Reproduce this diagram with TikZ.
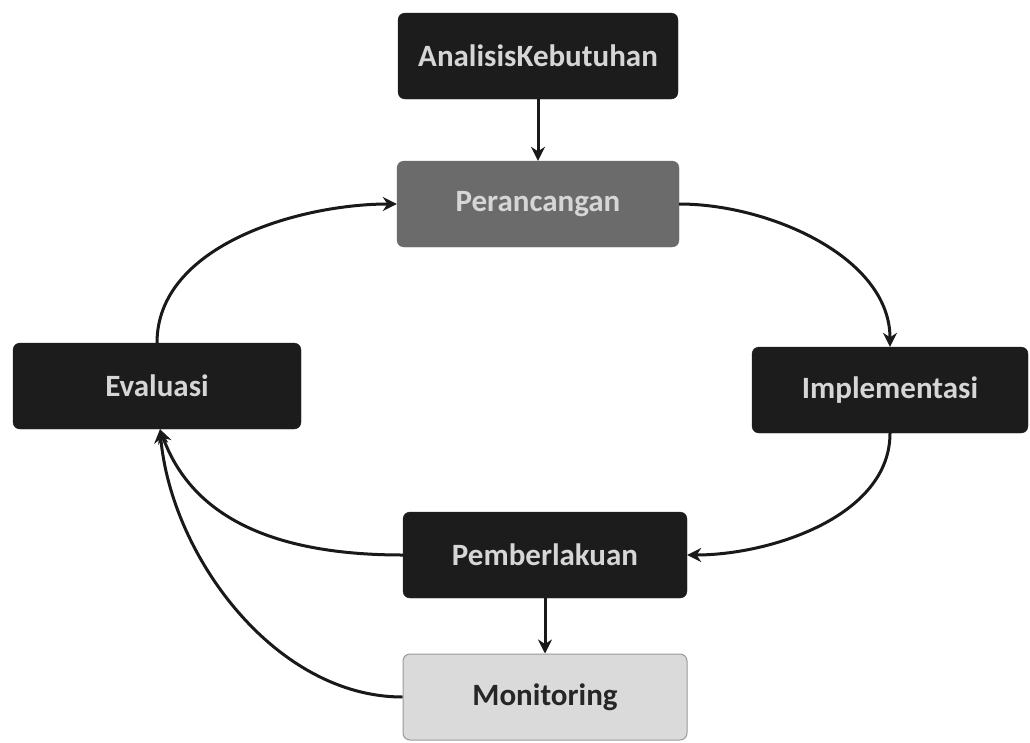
\documentclass[tikz,border=0pt]{standalone}
\usepackage{fontspec}
\setmainfont{Carlito}
\usetikzlibrary{arrows.meta}
\definecolor{darkbox}{HTML}{1C1C1C}
\definecolor{midbox}{HTML}{6B6B6B}
\definecolor{lightbox}{HTML}{DADADA}
\definecolor{boxtext}{HTML}{D6D6D6}
\tikzset{
  stage/.style={rectangle, rounded corners=7pt, minimum height=86pt, inner sep=0pt,
    font=\fontsize{31}{36}\selectfont\bfseries, text=boxtext, fill=darkbox, draw=darkbox},
  conn/.style={line width=3pt, draw=black!90, -{Stealth[length=14pt,width=14pt]}}
}
\begin{document}
\begin{tikzpicture}[x=1pt,y=-1pt]
\useasboundingbox (0,0) rectangle (1030,742);
\node[stage, minimum width=280pt] (ana) at (538,56) {AnalisisKebutuhan};
\node[stage, minimum width=282pt, fill=midbox, draw=midbox] (per) at (538,204) {Perancangan};
\node[stage, minimum width=288pt] (eva) at (157,386) {Evaluasi};
\node[stage, minimum width=276pt] (imp) at (890,390) {Implementasi};
\node[stage, minimum width=284pt] (pem) at (545,555) {Pemberlakuan};
\node[stage, minimum width=284pt, minimum height=86pt, fill=lightbox, draw=black!40, line width=1pt, text=black!85] (mon) at (545,697) {Monitoring};
\draw[conn] (ana.south) -- (per.north);
\draw[conn] (per.east) to[out=0,in=90,looseness=0.9] (imp.north);
\draw[conn] (imp.south) to[out=-90,in=0,looseness=0.9] (pem.east);
\draw[conn] (pem.west) to[out=180,in=-70,looseness=1] ([xshift=3pt]eva.south);
\draw[conn] (mon.west) to[out=180,in=-85,looseness=0.9] ([xshift=3pt]eva.south);
\draw[conn] (eva.north) to[out=90,in=180,looseness=0.9] (per.west);
\draw[conn] (pem.south) -- (mon.north);
\end{tikzpicture}
\end{document}
